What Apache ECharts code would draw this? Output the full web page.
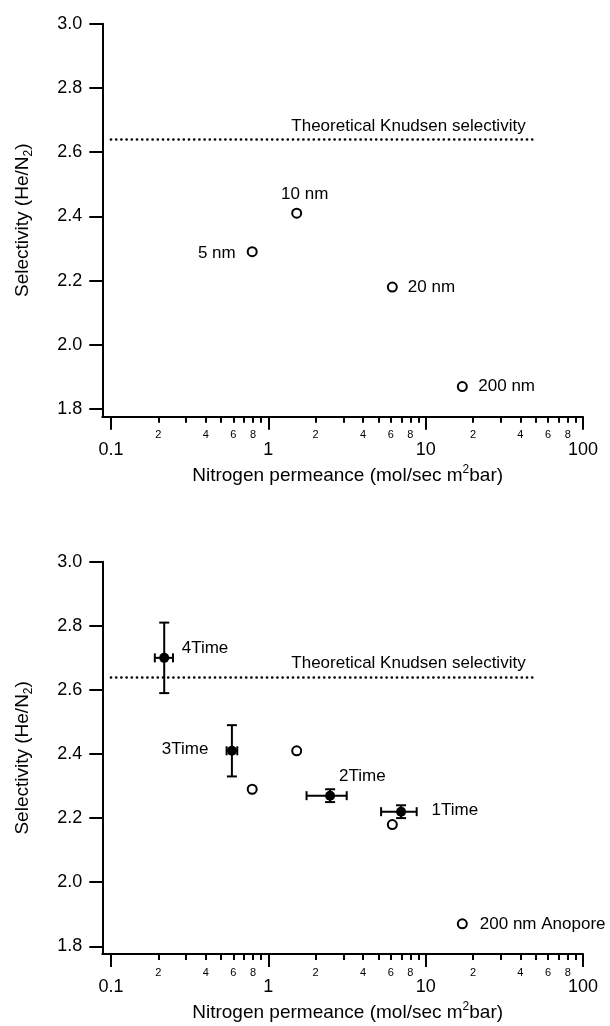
<!DOCTYPE html>
<html>
<head>
<meta charset="utf-8">
<script src="https://cdn.jsdelivr.net/npm/echarts@6/dist/echarts.min.js"></script>
<style>
  html, body { margin: 0; padding: 0; background: #fff; }
  #chart { width: 610px; height: 1026px; }
</style>
</head>
<body>
<div id="chart"></div>
<script>
// Membranes of different pore size (open circles)
const poreLabels = ['5 nm', '10 nm', '20 nm', '200 nm'];
const poreLabelsLower = ['', '', '', '200 nm Anopore'];
const porePermeance = [0.79, 1.515, 6.14, 17.1];
const poreSelectivity = [2.29, 2.41, 2.18, 1.87];

// Repeated coatings (filled circles with error bars)
const coatLabels = ['1Time', '2Time', '3Time', '4Time'];
const coatPermeance = [6.98, 2.47, 0.587, 0.218];
const coatPermeanceLow = [5.21, 1.75, 0.543, 0.19];
const coatPermeanceHigh = [8.77, 3.15, 0.635, 0.248];
const coatSelectivity = [2.22, 2.27, 2.41, 2.70];
const coatSelectivityErr = [0.02, 0.02, 0.08, 0.11];

// Knudsen limit for He/N2
const knudsenSelectivity = 2.64;
const knudsenRange = [0.1, 50];

// Axis ticks
const selectivityTicks = [1.8, 2.0, 2.2, 2.4, 2.6, 2.8, 3.0];
const permeanceMajorTicks = [0.1, 1, 10, 100];
const permeanceMinorTicks = [0.2, 0.3, 0.4, 0.5, 0.6, 0.7, 0.8, 0.9,
                             2, 3, 4, 5, 6, 7, 8, 9,
                             20, 30, 40, 50, 60, 70, 80, 90];
const permeanceMinorLabels = [0.2, 0.4, 0.6, 0.8, 2, 4, 6, 8, 20, 40, 60, 80];

const FONT = 'Liberation Sans';
const X_MIN = 0.0881, X_MAX = 100;
const Y_MIN = 1.776, Y_MAX = 3.0;

const labelPlacement = {
  '5 nm':   { position: 'left',  distance: 11, offset: [0, 1.5] },
  '10 nm':  { position: 'top',   distance: 5,  offset: [8, 0] },
  '20 nm':  { position: 'right', distance: 10 },
  '200 nm': { position: 'right', distance: 10.5 },
  '200 nm Anopore': { position: 'right', distance: 12 },
  '4Time':  { position: 'right', distance: 12.5, offset: [0, -10] },
  '3Time':  { position: 'left',  distance: 18.5, offset: [0, -1] },
  '2Time':  { position: 'right', distance: 4,    offset: [0, -19] },
  '1Time':  { position: 'right', distance: 25.5, offset: [0, -1] }
};

const textBase = { color: '#000', fontFamily: FONT };

function leadingDigit(v) {
  const p = Math.pow(10, Math.floor(Math.log10(v) + 1e-9));
  return String(Math.round(v / p));
}

function majorXAxis(gridIndex) {
  return {
    type: 'log', logBase: 10, gridIndex, min: X_MIN, max: X_MAX, position: 'bottom',
    axisLine: { show: true, onZero: false, lineStyle: { color: '#000', width: 2 } },
    axisTick: { show: true, inside: false, length: 13, customValues: permeanceMajorTicks,
                lineStyle: { color: '#000', width: 2 } },
    axisLabel: { customValues: permeanceMajorTicks, margin: 24, fontSize: 18, ...textBase,
                 formatter: v => (v < 1 ? v.toFixed(1) : String(Math.round(v))) },
    splitLine: { show: false },
    minorTick: { show: false },
    name: 'Nitrogen permeance (mol/sec m{sup|2}bar)',
    nameLocation: 'middle', nameGap: 47,
    nameTextStyle: {
      ...textBase, fontSize: 19, lineHeight: 24, padding: [0, 0, 0, 10],
      rich: { sup: { ...textBase, fontSize: 12, lineHeight: 12, verticalAlign: 'top' } }
    }
  };
}

function minorXAxis(gridIndex) {
  return {
    type: 'log', logBase: 10, gridIndex, min: X_MIN, max: X_MAX, position: 'bottom',
    axisLine: { show: false, onZero: false },
    axisTick: { show: true, inside: false, length: 6, customValues: permeanceMinorTicks,
                lineStyle: { color: '#000', width: 2 } },
    axisLabel: { customValues: permeanceMinorLabels, margin: 13, fontSize: 11, ...textBase,
                 formatter: v => leadingDigit(v) },
    splitLine: { show: false },
    minorTick: { show: false }
  };
}

function selectivityAxis(gridIndex) {
  return {
    type: 'value', gridIndex, min: Y_MIN, max: Y_MAX,
    axisLine: { show: true, onZero: false, lineStyle: { color: '#000', width: 2 } },
    axisTick: { show: true, inside: false, length: 13, customValues: selectivityTicks,
                lineStyle: { color: '#000', width: 2 } },
    axisLabel: { customValues: selectivityTicks, margin: 20, fontSize: 18, ...textBase,
                 formatter: v => v.toFixed(1) },
    splitLine: { show: false },
    name: 'Selectivity (He/N{sub|2})',
    nameLocation: 'middle', nameGap: 68, nameRotate: 90,
    nameTextStyle: {
      ...textBase, fontSize: 19, lineHeight: 24,
      rich: { sub: { ...textBase, fontSize: 12, lineHeight: 12, verticalAlign: 'bottom' } }
    }
  };
}

function knudsenLine() {
  return {
    silent: true, symbol: 'none', animation: false,
    lineStyle: { color: '#000', width: 2.6, type: [0.1, 5.1], cap: 'round' },
    label: { show: true, position: 'insideEndTop', formatter: 'Theoretical Knudsen selectivity',
             ...textBase, fontSize: 17, distance: [10, 5] },
    emphasis: { disabled: true },
    data: [[{ coord: [knudsenRange[0], knudsenSelectivity] },
            { coord: [knudsenRange[1], knudsenSelectivity] }]]
  };
}

function poreSeries(xAxisIndex, yAxisIndex, names) {
  return {
    type: 'scatter', xAxisIndex, yAxisIndex, symbol: 'circle', symbolSize: 9,
    itemStyle: { color: '#fff', borderColor: '#000', borderWidth: 2, opacity: 1 },
    label: { show: true, formatter: '{b}', ...textBase, fontSize: 17 },
    emphasis: { disabled: true },
    z: 3,
    data: porePermeance.map((x, i) => ({
      name: names[i],
      value: [x, poreSelectivity[i]],
      label: names[i] ? labelPlacement[names[i]] : { show: false }
    })),
    markLine: knudsenLine()
  };
}

function errorBarItem(params, api) {
  const x = api.value(0), y = api.value(1);
  const xl = api.value(2), xh = api.value(3);
  const yl = api.value(4), yh = api.value(5);
  const pl = api.coord([xl, y]), ph = api.coord([xh, y]);
  const pb = api.coord([x, yl]), pt = api.coord([x, yh]);
  const capH = 4.5, capV = 5;
  const style = { stroke: '#000', lineWidth: 2, fill: null };
  const seg = (x1, y1, x2, y2) => ({ type: 'line', shape: { x1, y1, x2, y2 }, style });
  return {
    type: 'group',
    children: [
      seg(pl[0], pl[1], ph[0], ph[1]),
      seg(pl[0], pl[1] - capH, pl[0], pl[1] + capH),
      seg(ph[0], ph[1] - capH, ph[0], ph[1] + capH),
      seg(pb[0], pb[1], pt[0], pt[1]),
      seg(pt[0] - capV, pt[1], pt[0] + capV, pt[1]),
      seg(pb[0] - capV, pb[1], pb[0] + capV, pb[1])
    ]
  };
}

const option = {
  animation: false,
  backgroundColor: '#fff',
  grid: [
    { left: 102.3, top: 23.8, width: 480.7, height: 392.9, containLabel: false },
    { left: 102.3, top: 561.7, width: 480.7, height: 392.6, containLabel: false }
  ],
  xAxis: [majorXAxis(0), minorXAxis(0), majorXAxis(1), minorXAxis(1)],
  yAxis: [selectivityAxis(0), selectivityAxis(1)],
  series: [
    poreSeries(0, 0, poreLabels),
    poreSeries(2, 1, poreLabelsLower),
    {
      type: 'custom', xAxisIndex: 2, yAxisIndex: 1,
      renderItem: errorBarItem,
      encode: { x: 0, y: 1 },
      silent: true, z: 4,
      data: coatPermeance.map((x, i) => [
        x, coatSelectivity[i],
        coatPermeanceLow[i], coatPermeanceHigh[i],
        coatSelectivity[i] - coatSelectivityErr[i], coatSelectivity[i] + coatSelectivityErr[i]
      ])
    },
    {
      type: 'scatter', xAxisIndex: 2, yAxisIndex: 1, symbol: 'circle', symbolSize: 10,
      itemStyle: { color: '#000', opacity: 1 },
      label: { show: true, formatter: '{b}', ...textBase, fontSize: 17 },
      emphasis: { disabled: true },
      z: 5,
      data: coatPermeance.map((x, i) => ({
        name: coatLabels[i],
        value: [x, coatSelectivity[i]],
        label: labelPlacement[coatLabels[i]]
      }))
    }
  ]
};

const chart = echarts.init(document.getElementById('chart'), null, { renderer: 'canvas' });
chart.setOption(option);
</script>
</body>
</html>
